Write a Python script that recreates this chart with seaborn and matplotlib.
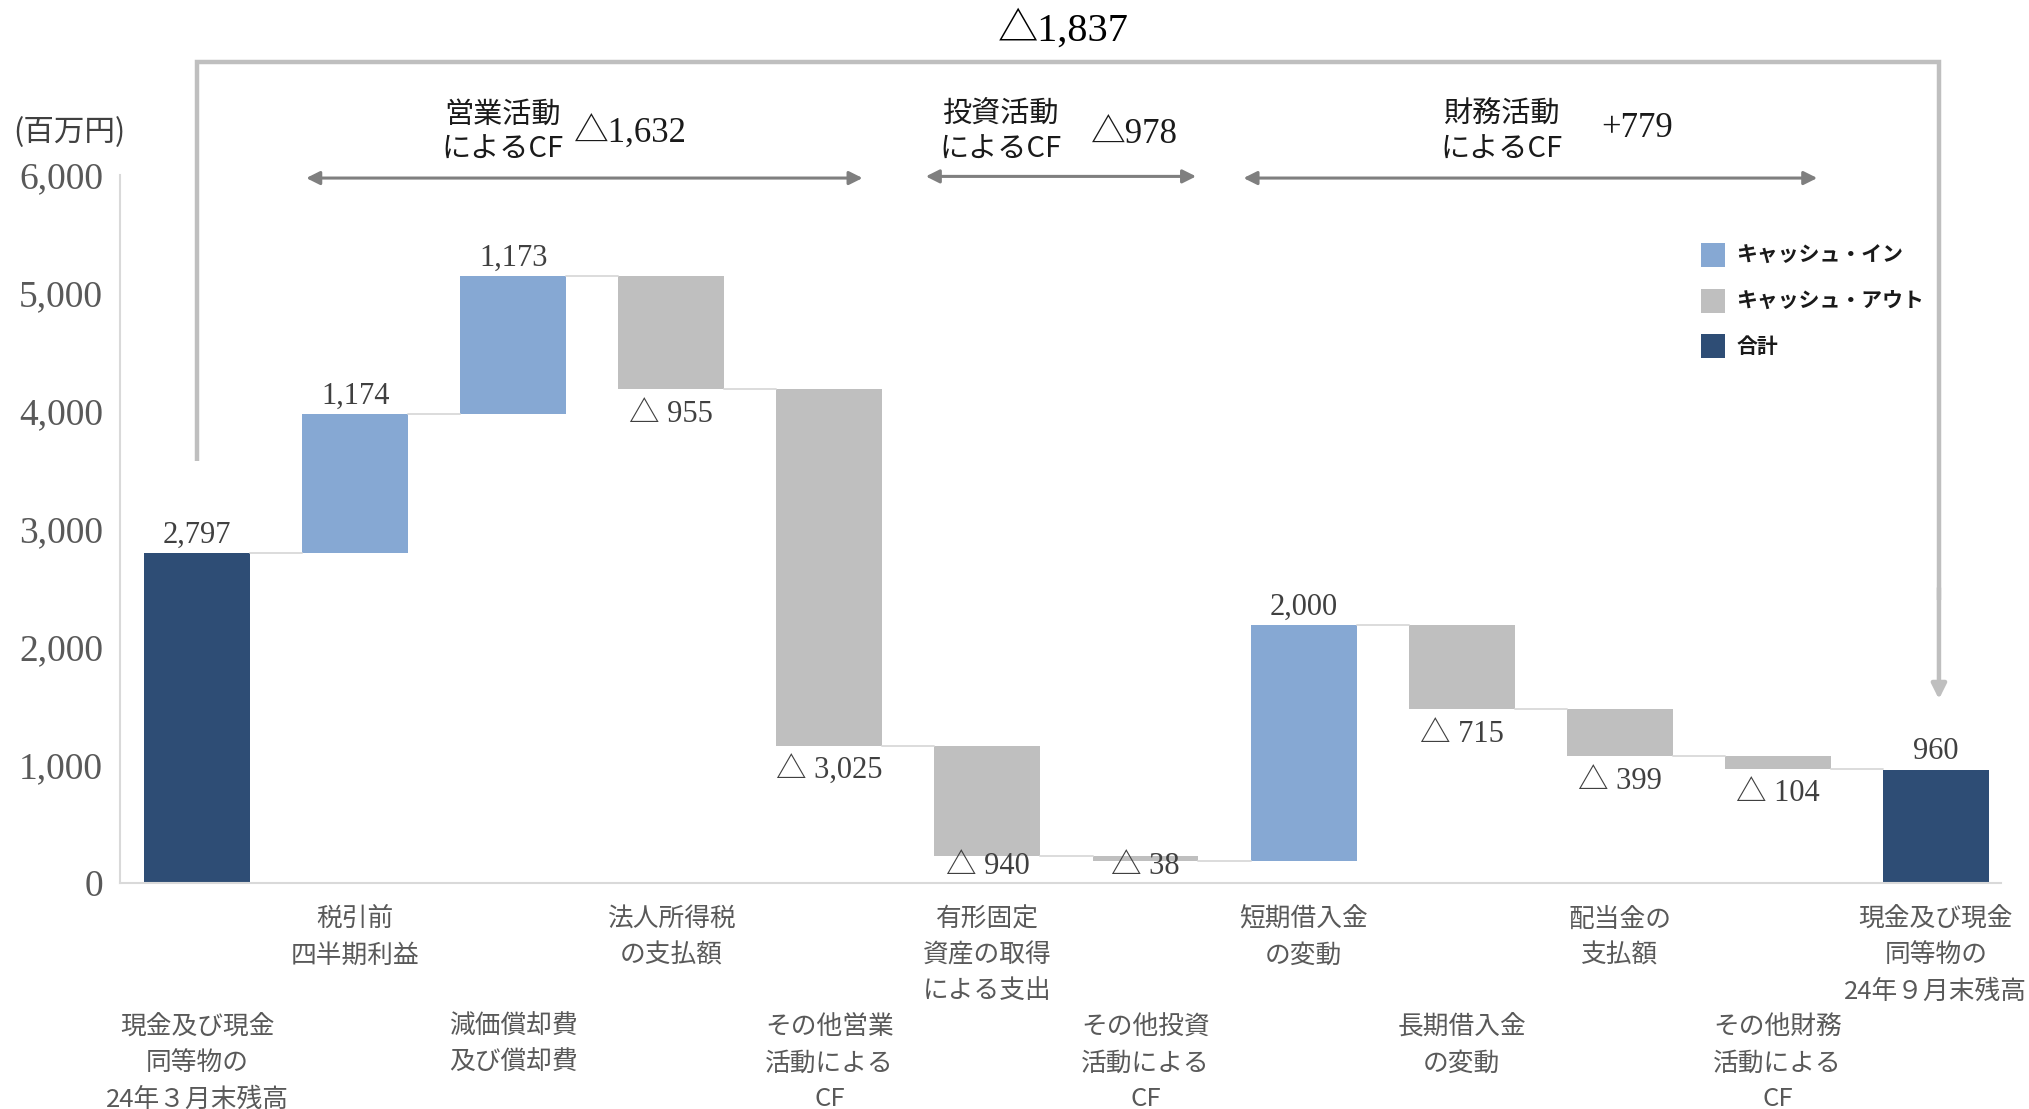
import matplotlib
matplotlib.use("Agg")
import matplotlib.pyplot as plt
import seaborn as sns
import pandas as pd
from matplotlib.patches import Patch

# ---------------- data ----------------
categories = [
    "現金及び現金\n同等物の\n24年３月末残高",
    "税引前\n四半期利益",
    "減価償却費\n及び償却費",
    "法人所得税\nの支払額",
    "その他営業\n活動による\nCF",
    "有形固定\n資産の取得\nによる支出",
    "その他投資\n活動による\nCF",
    "短期借入金\nの変動",
    "長期借入金\nの変動",
    "配当金の\n支払額",
    "その他財務\n活動による\nCF",
    "現金及び現金\n同等物の\n24年９月末残高",
]
changes = [2797, 1174, 1173, -955, -3025, -940, -38, 2000, -715, -399, -104, 960]
kinds = ["total", "in", "in", "out", "out", "out", "out", "in", "out", "out", "out", "total"]
value_labels = ["2,797", "1,174", "1,173", "△ 955", "△ 3,025", "△ 940", "△ 38",
                "2,000", "△ 715", "△ 399", "△ 104", "960"]
legend_labels = ["キャッシュ・イン", "キャッシュ・アウト", "合計"]
section_titles = ["営業活動\nによるCF", "投資活動\nによるCF", "財務活動\nによるCF"]
section_values = ["△1,632", "△978", "+779"]
overall_label = "△1,837"
yticks = [0, 1000, 2000, 3000, 4000, 5000, 6000]
ytick_labels = ["0", "1,000", "2,000", "3,000", "4,000", "5,000", "6,000"]

colors_map = {"in": "#86A8D3", "out": "#BFBFBF", "total": "#2E4D75"}

# ---------------- waterfall geometry from data ----------------
bottoms, heights, levels = [], [], []
running = 0
for v, k in zip(changes, kinds):
    if k == "total":
        bottoms.append(0)
        heights.append(v)
        running = v
    elif k == "in":
        bottoms.append(running)
        heights.append(v)
        running += v
    else:
        running += v
        bottoms.append(running)
        heights.append(-v)
    levels.append(running)

df = pd.DataFrame({"cat": categories, "height": heights, "bottom": bottoms, "kind": kinds})

# ---------------- plotting ----------------
sns.set_theme(style="white")
plt.rcParams["font.family"] = ["Noto Sans CJK JP", "DejaVu Sans"]
serif = ["Liberation Serif", "Noto Sans CJK JP"]
jp = ["Noto Sans CJK JP", "DejaVu Sans"]

fig = plt.figure(figsize=(20.29, 11.09), dpi=100)
ax = fig.add_axes([0.059, 0.204, 0.927, 0.638])

BW = 0.67
sns.barplot(data=df, x="cat", y="height", bottom=df["bottom"].values, width=BW,
            order=categories, ax=ax, errorbar=None, saturation=1, edgecolor="none",
            color="#BFBFBF")
for patch, k in zip(ax.patches, kinds):
    patch.set_facecolor(colors_map[k])

ax.set_xlim(-0.49, 11.41)
ax.set_ylim(0, 6000)

# connectors
for i in range(len(changes) - 1):
    ax.plot([i + BW / 2, i + 1 - BW / 2], [levels[i], levels[i]], color="#D9D9D9", lw=1.3, zorder=1)

# value labels (negative labels kept inside the plot area, as in the original)
for i, (b, h, k, lab) in enumerate(zip(bottoms, heights, kinds, value_labels)):
    if k == "out":
        y = max(b - 215, 135)
        ax.text(i, y, lab, ha="center", va="center", fontsize=22, family=serif, color="#404040")
    else:
        ax.annotate(lab, (i, b + h), xytext=(0, 18), textcoords="offset pixels", ha="center",
                    va="center", fontsize=22, family=serif, color="#404040")

# axes styling
ax.set_xlabel("")
ax.set_ylabel("")
ax.set_yticks(yticks)
ax.set_yticklabels(ytick_labels, family=serif, fontsize=27, color="#595959")
ax.set_xticks(range(len(categories)))
xt = []
for i, c in enumerate(categories):
    xt.append(c if i % 2 == 1 else "\n\n\n" + c)
ax.set_xticklabels(xt, fontsize=18.5, color="#595959", family=jp, linespacing=1.5, va="top")
ax.tick_params(axis="y", length=0, pad=12)
ax.tick_params(axis="x", length=0, pad=17)
for s in ["top", "right"]:
    ax.spines[s].set_visible(False)
for s in ["left", "bottom"]:
    ax.spines[s].set_color("#D9D9D9")
    ax.spines[s].set_linewidth(1.5)

# overall bracket
bc = "#BFBFBF"
ax.plot([0, 0, 11.02, 11.02], [3575, 6963, 6963, 2400], color=bc, lw=3.2,
        clip_on=False, solid_capstyle="butt", solid_joinstyle="miter")
ax.annotate("", xy=(11.02, 1557), xytext=(11.02, 2500),
            arrowprops=dict(arrowstyle="-|>", color=bc, lw=3.2, mutation_scale=22, shrinkA=0, shrinkB=0),
            annotation_clip=False)
ax.text(5.48, 7237, overall_label, ha="center", va="center", fontsize=29, family=serif,
        color="#000000", clip_on=False)

# section arrows
ac = "#7F7F7F"
arrows = [(0.69, 4.21, 5976), (4.61, 6.32, 5990), (6.62, 10.25, 5976)]
title_x = [1.93, 5.08, 8.25]
val_x = [2.74, 5.93, 9.11]
val_y = [6349, 6349, 6393]
for (x0, x1, y), tx, vx, vy, t, v in zip(arrows, title_x, val_x, val_y, section_titles, section_values):
    ax.annotate("", xy=(x1, y), xytext=(x0, y),
                arrowprops=dict(arrowstyle="<|-|>", color=ac, lw=2.2, mutation_scale=20,
                                shrinkA=0, shrinkB=0),
                annotation_clip=False)
    ax.text(tx, 6365, t, ha="center", va="center", fontsize=21, family=jp, color="#1a1a1a",
            linespacing=1.2, clip_on=False)
    ax.text(vx, vy, v, ha="center", va="center", fontsize=25, family=serif, color="#1a1a1a",
            clip_on=False)

# unit label
fig.text(0.034, 1 - 133 / 1109, "(百万円)", ha="center", va="center", fontsize=22,
         family=jp, color="#404040")

# legend
handles = [Patch(facecolor=colors_map[k], edgecolor="none") for k in ["in", "out", "total"]]
leg = fig.legend(handles, legend_labels, loc="upper left", bbox_to_anchor=(1701 / 2029, 1 - 243 / 1109),
                 frameon=False, borderpad=0, borderaxespad=0, handlelength=1.15, handleheight=1.39,
                 handletextpad=0.55, labelspacing=1.04,
                 prop={"family": jp, "size": 15, "weight": "bold"})
for t in leg.get_texts():
    t.set_color("#1a1a1a")

fig.savefig("out.png", dpi=100)
